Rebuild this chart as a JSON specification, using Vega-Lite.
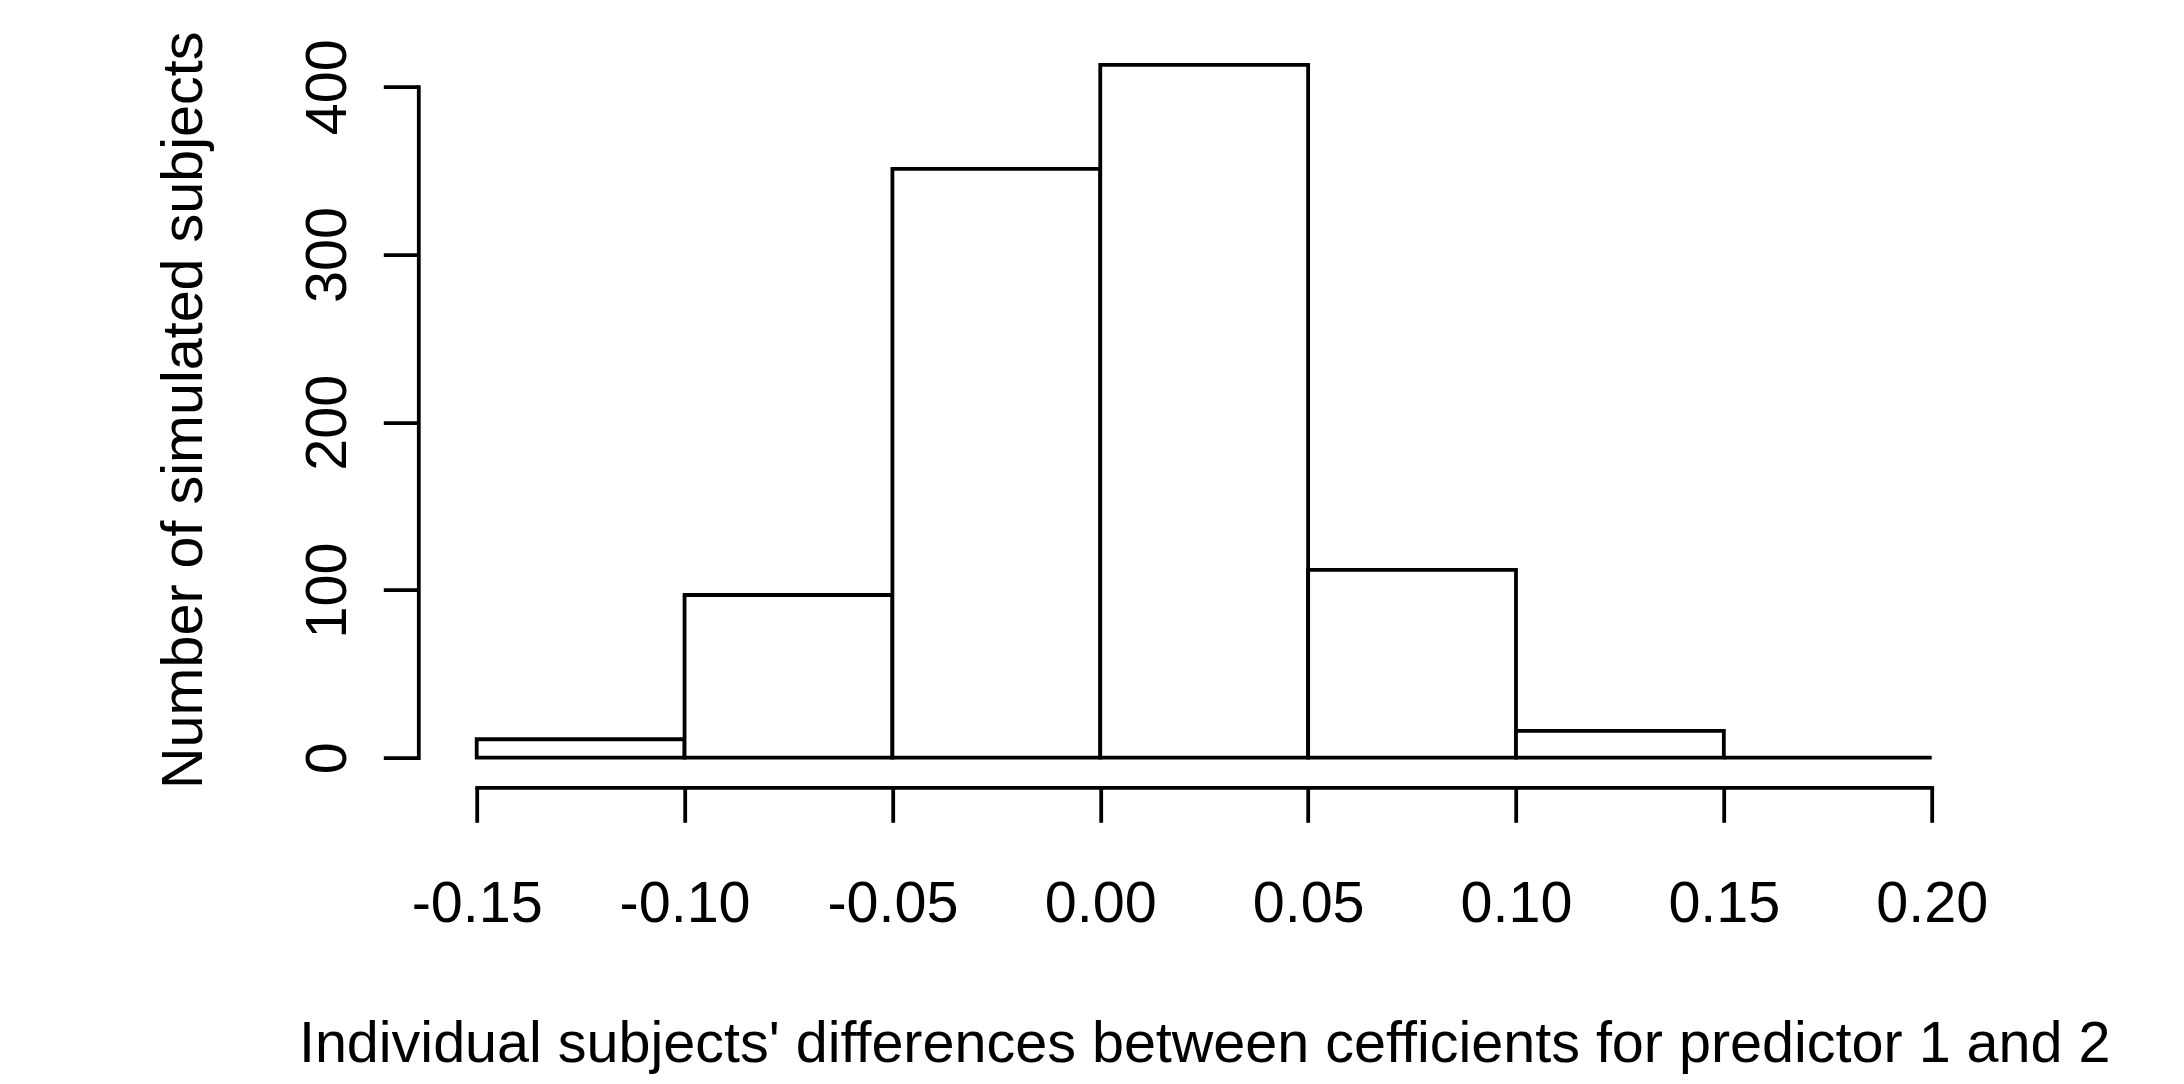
{
  "$schema": "https://vega.github.io/schema/vega-lite/v6.json",
  "width": 1455,
  "height": 671,
  "autosize": {"type": "none"},
  "padding": {"left": 476.7, "top": 86.7, "right": 252.3, "bottom": 326.3},
  "background": "white",
  "config": {"view": {"stroke": null}, "font": "Liberation Sans"},
  "data": {
    "values": [
      {"bin_start": -0.15, "bin_end": -0.10, "count": 11},
      {"bin_start": -0.10, "bin_end": -0.05, "count": 97},
      {"bin_start": -0.05, "bin_end": 0.00, "count": 351},
      {"bin_start": 0.00, "bin_end": 0.05, "count": 413},
      {"bin_start": 0.05, "bin_end": 0.10, "count": 112},
      {"bin_start": 0.10, "bin_end": 0.15, "count": 16},
      {"bin_start": 0.15, "bin_end": 0.20, "count": 0}
    ]
  },
  "mark": {"type": "rect", "fill": "white", "stroke": "black", "strokeWidth": 3.8, "clip": false},
  "encoding": {
    "x": {
      "field": "bin_start",
      "type": "quantitative",
      "scale": {"domain": [-0.15, 0.2], "nice": false, "zero": false},
      "axis": {
        "title": "Individual subjects' differences between cefficients for predictor 1 and 2",
        "values": [-0.15, -0.1, -0.05, 0, 0.05, 0.1, 0.15, 0.2],
        "labelExpr": "replace(format(datum.value, '.2f'), '−', '-')",
        "offset": 29.6,
        "grid": false,
        "domainColor": "black",
        "domainWidth": 3.8,
        "domainCap": "square",
        "tickColor": "black",
        "tickWidth": 3.8,
        "tickSize": 35,
        "labelFont": "Liberation Sans",
        "labelFontSize": 57.5,
        "labelColor": "black",
        "labelPadding": 99.4,
        "labelBaseline": "alphabetic",
        "labelAlign": "center",
        "labelFlush": false,
        "labelOverlap": false,
        "titleFont": "Liberation Sans",
        "titleFontSize": 57.5,
        "titleFontWeight": "normal",
        "titleColor": "black",
        "titleBaseline": "alphabetic",
        "titleAlign": "center",
        "titleY": 274.4
      }
    },
    "x2": {"field": "bin_end"},
    "y": {
      "field": "count",
      "type": "quantitative",
      "scale": {"domain": [0, 400], "nice": false},
      "axis": {
        "title": "Number of simulated subjects",
        "values": [0, 100, 200, 300, 400],
        "format": "d",
        "offset": 58.4,
        "grid": false,
        "domainColor": "black",
        "domainWidth": 3.8,
        "domainCap": "square",
        "tickColor": "black",
        "tickWidth": 3.8,
        "tickSize": 35,
        "labelFont": "Liberation Sans",
        "labelFontSize": 57.5,
        "labelColor": "black",
        "labelAngle": 270,
        "labelAlign": "center",
        "labelBaseline": "alphabetic",
        "labelPadding": 37.5,
        "labelFlush": false,
        "labelOverlap": false,
        "titleFont": "Liberation Sans",
        "titleFontSize": 57.5,
        "titleFontWeight": "normal",
        "titleColor": "black",
        "titleAngle": 270,
        "titleAlign": "center",
        "titleBaseline": "alphabetic",
        "titleX": -216.6,
        "titleY": 323
      }
    },
    "y2": {"datum": 0}
  }
}
